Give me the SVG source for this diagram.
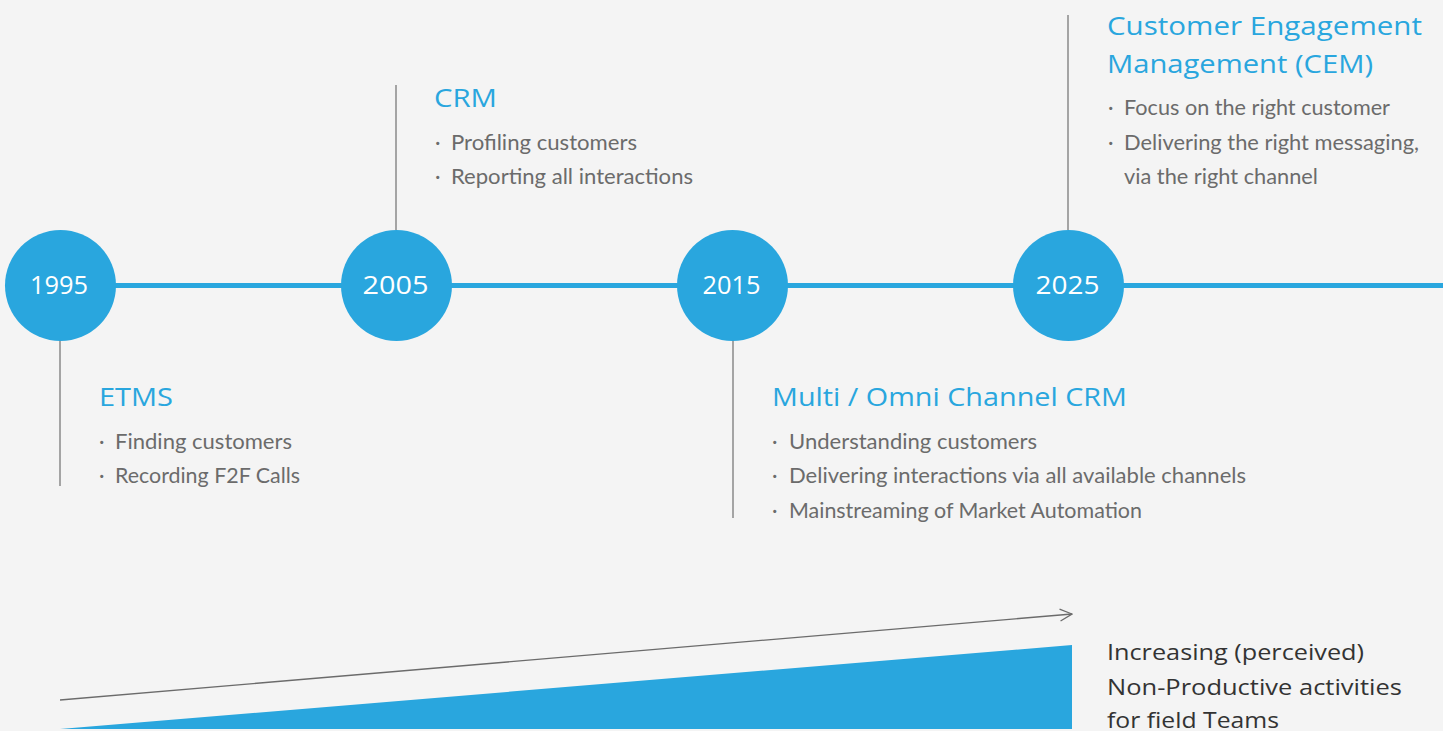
<svg xmlns="http://www.w3.org/2000/svg" width="1443" height="731" viewBox="0 0 1443 731">
  <style>
    .bg { fill: #f4f4f4; }
    .track { stroke: #29a6de; stroke-width: 5; }
    .dot { fill: #29a6de; }
    .year { font-family: "Open Sans", "Liberation Sans", sans-serif; font-size: 26px; fill: #ffffff; text-anchor: middle; }
    .stem { stroke: #8a8a8a; stroke-width: 1.5; }
    .title { font-family: "Open Sans", "Liberation Sans", sans-serif; font-size: 26px; fill: #29a6de; }
    .item { font-family: "Lato", "Noto Sans", sans-serif; font-size: 21px; fill: #6b6b6b; }
    .note { font-family: "Open Sans", "Liberation Sans", sans-serif; font-size: 21px; fill: #333333; }
    .trend { stroke: #6b6b6b; stroke-width: 1.3; fill: none; }
    .wedge { fill: #29a6de; }
  </style>
  <defs>
    <marker id="open-arrow" viewBox="0 0 14 14" refX="13" refY="7" markerWidth="14" markerHeight="14" markerUnits="userSpaceOnUse" orient="auto">
      <path d="M1 1 L13 7 L1 13" fill="none" stroke="#6b6b6b" stroke-width="1.3"/>
    </marker>
  </defs>

  <rect class="bg" x="0" y="0" width="1443" height="731"/>

  <!-- timeline track and stems -->
  <g id="connectors">
    <line class="track" x1="60" y1="285.5" x2="1443" y2="285.5"/>
    <line class="stem" x1="60" y1="340" x2="60" y2="486"/>
    <line class="stem" x1="396" y1="85" x2="396" y2="230"/>
    <line class="stem" x1="733" y1="340" x2="733" y2="518"/>
    <line class="stem" x1="1068" y1="15" x2="1068" y2="230"/>
  </g>

  <!-- year markers -->
  <g id="y1995">
    <circle class="dot" cx="60.5" cy="285.5" r="55.5"/>
    <text class="year" x="59" y="294" textLength="58" lengthAdjust="spacingAndGlyphs">1995</text>
  </g>
  <g id="y2005">
    <circle class="dot" cx="396.5" cy="285.5" r="55.5"/>
    <text class="year" x="395.5" y="294" textLength="66" lengthAdjust="spacingAndGlyphs">2005</text>
  </g>
  <g id="y2015">
    <circle class="dot" cx="732.5" cy="285.5" r="55.5"/>
    <text class="year" x="731.5" y="294" textLength="58" lengthAdjust="spacingAndGlyphs">2015</text>
  </g>
  <g id="y2025">
    <circle class="dot" cx="1068.5" cy="285.5" r="55.5"/>
    <text class="year" x="1067.5" y="294" textLength="64" lengthAdjust="spacingAndGlyphs">2025</text>
  </g>

  <!-- era descriptions -->
  <g id="etms">
    <text class="title" x="99" y="406" textLength="74" lengthAdjust="spacingAndGlyphs">ETMS</text>
    <text class="item" x="99" y="449">·</text>
    <text class="item" x="115" y="449" textLength="177" lengthAdjust="spacingAndGlyphs">Finding customers</text>
    <text class="item" x="99" y="483">·</text>
    <text class="item" x="115" y="483" textLength="185" lengthAdjust="spacingAndGlyphs">Recording F2F Calls</text>
  </g>
  <g id="crm">
    <text class="title" x="434" y="107" textLength="63" lengthAdjust="spacingAndGlyphs">CRM</text>
    <text class="item" x="435" y="150">·</text>
    <text class="item" x="451" y="150" textLength="186" lengthAdjust="spacingAndGlyphs">Profiling customers</text>
    <text class="item" x="435" y="184">·</text>
    <text class="item" x="451" y="184" textLength="242" lengthAdjust="spacingAndGlyphs">Reporting all interactions</text>
  </g>
  <g id="omni">
    <text class="title" x="772" y="406" textLength="355" lengthAdjust="spacingAndGlyphs">Multi / Omni Channel CRM</text>
    <text class="item" x="772" y="449">·</text>
    <text class="item" x="789" y="449" textLength="248" lengthAdjust="spacingAndGlyphs">Understanding customers</text>
    <text class="item" x="772" y="483">·</text>
    <text class="item" x="789" y="483" textLength="457" lengthAdjust="spacingAndGlyphs">Delivering interactions via all available channels</text>
    <text class="item" x="772" y="518">·</text>
    <text class="item" x="789" y="518" textLength="353" lengthAdjust="spacingAndGlyphs">Mainstreaming of Market Automation</text>
  </g>
  <g id="cem">
    <text class="title" x="1107" y="35" textLength="315" lengthAdjust="spacingAndGlyphs">Customer Engagement</text>
    <text class="title" x="1107" y="73" textLength="266" lengthAdjust="spacingAndGlyphs">Management (CEM)</text>
    <text class="item" x="1108" y="115">·</text>
    <text class="item" x="1124" y="115" textLength="266" lengthAdjust="spacingAndGlyphs">Focus on the right customer</text>
    <text class="item" x="1108" y="150">·</text>
    <text class="item" x="1124" y="150" textLength="295" lengthAdjust="spacingAndGlyphs">Delivering the right messaging,</text>
    <text class="item" x="1124" y="184" textLength="194" lengthAdjust="spacingAndGlyphs">via the right channel</text>
  </g>

  <!-- growing workload indicator -->
  <g id="trend">
    <line class="trend" x1="60" y1="700" x2="1072" y2="614" marker-end="url(#open-arrow)"/>
    <polygon class="wedge" points="60,729 1072,645 1072,729"/>
    <text class="note" x="1107" y="660" textLength="257" lengthAdjust="spacingAndGlyphs">Increasing (perceived)</text>
    <text class="note" x="1107" y="695" textLength="295" lengthAdjust="spacingAndGlyphs">Non-Productive activities</text>
    <text class="note" x="1107" y="728" textLength="172" lengthAdjust="spacingAndGlyphs">for field Teams</text>
  </g>
</svg>
